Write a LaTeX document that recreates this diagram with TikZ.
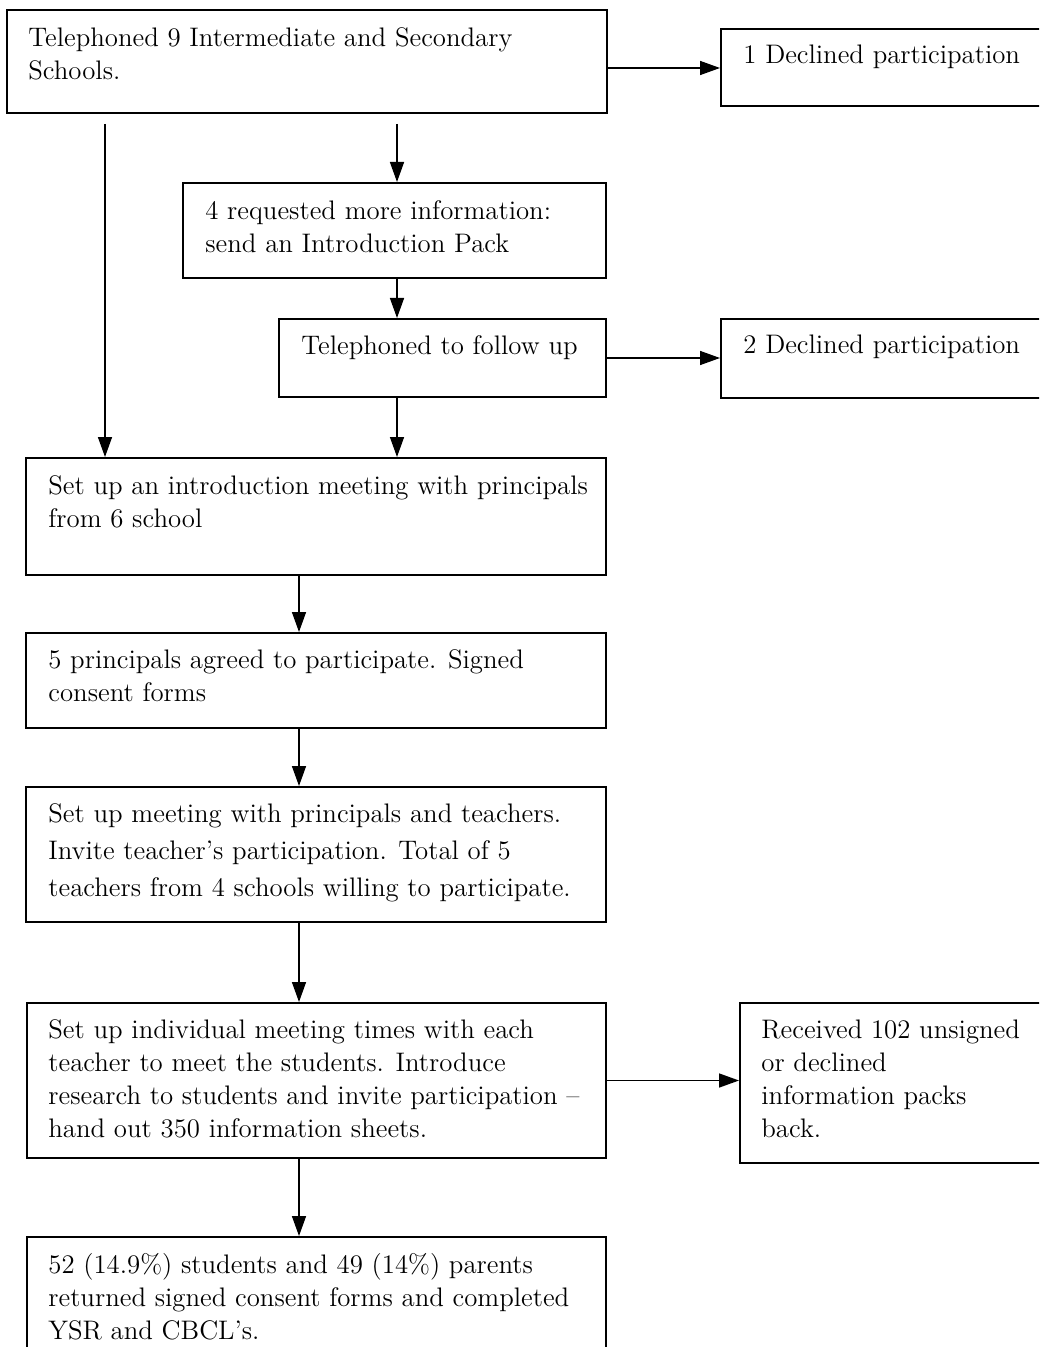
\documentclass[tikz,border=0pt]{standalone}
\usetikzlibrary{arrows.meta,fit}
\begin{document}
\begin{tikzpicture}[x=0.5pt,y=-0.5pt,
  box/.style={draw, line width=1pt, inner sep=0pt, fit={#1}},
  txt/.style={anchor=north west, align=left, inner sep=0pt, font=\fontsize{13.4}{16.5}\selectfont},
  arr/.style={-{Triangle[length=10pt,width=7pt]}, line width=0.75pt}]
\clip (0,0) rectangle (1039,1347);
\fill[white] (0,0) rectangle (1039,1347);
% boxes
\node[box={(7,10)(607,113)}] (n1) {};
\node[txt] at (28,27) {Telephoned 9 Intermediate and Secondary\\Schools.};
\node[box={(721,29)(1060,106)}] (d1) {};
\node[txt] at (743,45) {1 Declined participation};
\node[box={(183,183)(606,278)}] (n2) {};
\node[txt] at (205,200) {4 requested more information:\\send an Introduction Pack};
\node[box={(279,319)(606,397)}] (n3) {};
\node[txt] at (301,335) {Telephoned to follow up};
\node[box={(721,319)(1060,398)}] (d2) {};
\node[txt] at (743,335) {2 Declined participation};
\node[box={(26,458)(606,575)}] (n4) {};
\node[txt] at (48,475) {Set up an introduction meeting with principals\\from 6 school};
\node[box={(26,633)(606,728)}] (n5) {};
\node[txt] at (48,649) {5 principals agreed to participate. Signed\\consent forms};
\node[box={(26,787)(606,922)}] (n6) {};
\node[txt, font=\fontsize{13.4}{18.5}\selectfont] at (48,803) {Set up meeting with principals and teachers.\\Invite teacher’s participation. Total of 5\\teachers from 4 schools willing to participate.};
\node[box={(27,1003)(606,1158)}] (n7) {};
\node[txt] at (48,1019) {Set up individual meeting times with each\\teacher to meet the students. Introduce\\research to students and invite participation –\\hand out 350 information sheets.};
\node[box={(740,1003)(1060,1163)}] (d3) {};
\node[txt] at (761,1019) {Received 102 unsigned\\or declined\\information packs\\back.};
\node[box={(27,1237)(606,1400)}] (n8) {};
\node[txt] at (48,1253) {52 (14.9\%) students and 49 (14\%) parents\\returned signed consent forms and completed\\YSR and CBCL’s.};
% helper coordinates
\coordinate (ca) at (397,124);
\coordinate (cb) at (105,124);
\coordinate (xb) at (299,0);
\coordinate (ya) at (0,68);
% connectors
\draw[arr] (n1.east |- ya) -- (d1.west |- ya);
\draw[arr] (ca) -- (ca |- n2.north);
\draw[arr] (cb) -- (cb |- n4.north);
\draw[arr] (n2.south -| ca) -- (n3.north -| ca);
\draw[arr] (n3.east) -- (n3.east -| d2.west);
\draw[arr] (n3.south -| ca) -- (n4.north -| ca);
\draw[arr] (n4.south -| xb) -- (n5.north -| xb);
\draw[arr] (n5.south -| xb) -- (n6.north -| xb);
\draw[arr] (n6.south -| xb) -- (n7.north -| xb);
\draw[arr] (n7.east) -- (n7.east -| d3.west);
\draw[arr] (n7.south -| xb) -- (n8.north -| xb);
\end{tikzpicture}
\end{document}
